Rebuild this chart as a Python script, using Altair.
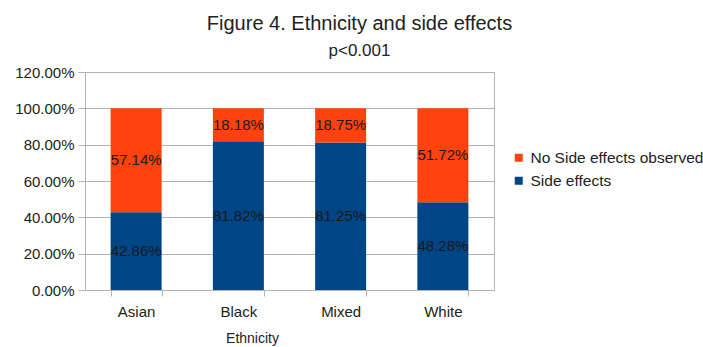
import altair as alt
import pandas as pd

# Share of patients per ethnicity (percent)
ethnicities = ["Asian", "Black", "Mixed", "White"]
side_effects = [42.86, 81.82, 81.25, 48.28]
no_side_effects = [57.14, 18.18, 18.75, 51.72]

series_names = ["No Side effects observed", "Side effects"]
series_colors = ["#ff420e", "#004586"]
y_ticks = [0, 20, 40, 60, 80, 100, 120]

rows = []
for eth, se, nse in zip(ethnicities, side_effects, no_side_effects):
    rows.append({"Ethnicity": eth, "series": "Side effects", "value": se, "stack_order": 0})
    rows.append({"Ethnicity": eth, "series": "No Side effects observed", "value": nse, "stack_order": 1})
df = pd.DataFrame(rows)

FONT = "Liberation Sans"
GRID = "#b3b3b3"

x_enc = alt.X(
    "Ethnicity:N",
    sort=ethnicities,
    scale=alt.Scale(paddingInner=0.5, paddingOuter=0.25),
    axis=alt.Axis(
        title="Ethnicity",
        labelAngle=0,
        labelFontSize=15,
        labelPadding=8,
        labelColor="#222222",
        tickBand="extent",
        tickSize=6,
        tickColor=GRID,
        domainColor=GRID,
        titleFontSize=14,
        titleFontWeight="normal",
        titleColor="#222222",
        titleX=167,
        titleY=48,
        titleBaseline="middle",
        titleAlign="center",
    ),
)

y_scale = alt.Scale(domain=[0, 120], nice=False)
y_axis = alt.Axis(
    title=None,
    values=y_ticks,
    labelExpr="format(datum.value / 100, '.2%')",
    labelFontSize=15,
    labelColor="#222222",
    labelPadding=4,
    labelOverlap=False,
    tickSize=7,
    tickColor=GRID,
    domainColor=GRID,
    gridColor=GRID,
)

base = alt.Chart(df).encode(
    x=x_enc,
    order=alt.Order("stack_order:Q"),
)

bars = base.mark_bar(size=51).encode(
    y=alt.Y("value:Q", stack="zero", scale=y_scale, axis=y_axis),
    color=alt.Color(
        "series:N",
        scale=alt.Scale(domain=series_names, range=series_colors),
        legend=alt.Legend(
            title=None,
            orient="none",
            legendX=426,
            legendY=78,
            labelFontSize=15.5,
            labelColor="#222222",
            labelLimit=0,
            symbolType="square",
            symbolSize=64,
            symbolStrokeWidth=0,
            rowPadding=6,
            labelOffset=4,
        ),
    ),
)

labels = base.mark_text(fontSize=15, color="#1a1a1a", font=FONT).encode(
    y=alt.Y("mid:Q", scale=y_scale, axis=y_axis),
    text=alt.Text("label:N"),
).transform_stack(
    stack="value", groupby=["Ethnicity"], sort=[alt.SortField("stack_order")], as_=["y0", "y1"]
).transform_calculate(
    mid="(datum.y0 + datum.y1) / 2",
    label="format(datum.value / 100, '.2%')",
)

chart = (
    alt.layer(bars, labels)
    .properties(
        width=409,
        height=218,
        title=alt.TitleParams(
            text="Figure 4. Ethnicity and side effects",
            subtitle="p<0.001",
            anchor="middle",
            dx=70,
            fontSize=20,
            fontWeight="normal",
            color="#222222",
            subtitleFontSize=17,
            subtitleColor="#222222",
            subtitlePadding=9,
            offset=6,
            font=FONT,
            subtitleFont=FONT,
        ),
        autosize=alt.AutoSizeParams(type="none"),
        padding={"left": 85, "top": 72, "right": 209, "bottom": 57},
    )
    .configure(font=FONT, background="white")
    .configure_view(stroke=GRID, strokeWidth=1)
    .configure_axis(gridColor=GRID)
    .configure_axisX(grid=False)
)

chart.save("out.html", embed_options={"renderer": "svg", "actions": False})
